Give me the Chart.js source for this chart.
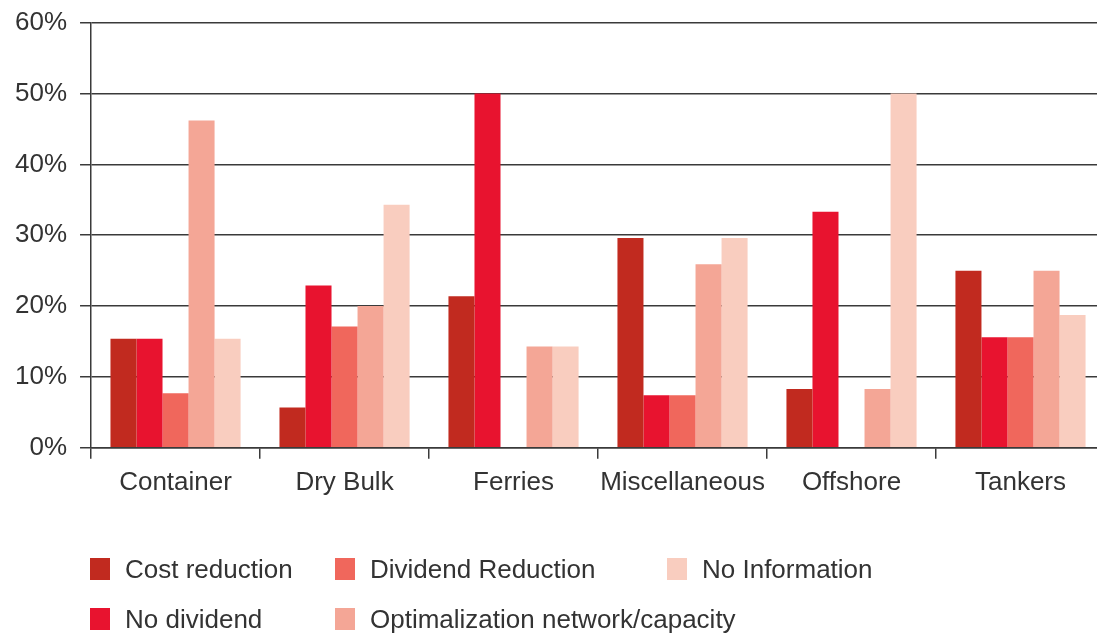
<!DOCTYPE html>
<html>
<head>
<meta charset="utf-8">
<script src="https://cdn.jsdelivr.net/npm/chart.js@4/dist/chart.umd.min.js"></script>
<style>
  html, body { margin: 0; padding: 0; background: #fff; overflow: hidden; }
  #wrap { position: relative; width: 1097px; height: 639px; overflow: hidden; }
  #chartBox { position: absolute; left: 0; top: -6px; width: 1110px; height: 645px; }
  #legend { position: absolute; left: 0; top: 0; width: 1097px; height: 639px; pointer-events: none;
    font-family: "Liberation Sans", Arial, sans-serif; font-size: 26px; color: #333; }
  .lg-item { position: absolute; display: flex; align-items: center; white-space: nowrap; }
  .lg-box { width: 20px; height: 22px; margin-right: 15px; }
</style>
</head>
<body>
<div id="wrap">
  <div id="chartBox"><canvas id="chart"></canvas></div>
  <div id="legend"></div>
</div>
<script>
// Categories and series (percent)
const categories = ["Container", "Dry Bulk", "Ferries", "Miscellaneous", "Offshore", "Tankers"];
const costReduction = [15.4, 5.7, 21.4, 29.6, 8.3, 25.0];
const noDividend = [15.4, 22.9, 50.0, 7.4, 33.3, 15.6];
const dividendReduction = [7.7, 17.1, 0, 7.4, 0, 15.6];
const optimalization = [46.2, 20.0, 14.3, 25.9, 8.3, 25.0];
const noInformation = [15.4, 34.3, 14.3, 29.6, 50.0, 18.75];
const yTicks = [0, 10, 20, 30, 40, 50, 60];

const seriesLabels = ["Cost reduction", "No dividend", "Dividend Reduction", "Optimalization network/capacity", "No Information"];
const seriesValues = [costReduction, noDividend, dividendReduction, optimalization, noInformation];
const seriesColors = ["#c12a1f", "#e8132f", "#f0675c", "#f4a696", "#f9cdbf"];

const FONT = { family: "'Liberation Sans', Arial, sans-serif", size: 26 };
const INK = "#333";
const LINE = "#3a3a3a";

const datasets = seriesLabels.map((label, i) => ({
  label,
  data: seriesValues[i],
  backgroundColor: seriesColors[i],
  borderWidth: 0,
  barPercentage: 1.0,
  categoryPercentage: 0.77,
}));

const chart = new Chart(document.getElementById("chart"), {
  type: "bar",
  data: { labels: categories, datasets },
  options: {
    responsive: true,
    maintainAspectRatio: false,
    animation: false,
    layout: { padding: { left: 2, right: 5, top: 16, bottom: 133 } },
    plugins: {
      legend: { display: false },
      tooltip: { enabled: false },
    },
    scales: {
      x: {
        grid: {
          drawOnChartArea: false,
          color: LINE,
          lineWidth: 1.5,
          tickLength: 11,
          offset: true,
        },
        border: { color: LINE, width: 1.5 },
        ticks: { color: INK, font: FONT, padding: 8, maxRotation: 0, autoSkip: false },
      },
      y: {
        min: 0,
        max: 60,
        afterBuildTicks: (axis) => {
          axis.ticks = yTicks.map((v) => ({ value: v }));
        },
        grid: { color: LINE, lineWidth: 1.5, tickLength: 11 },
        border: { color: LINE, width: 1.5 },
        ticks: {
          color: INK,
          font: FONT,
          padding: 13,
          callback: (v) => v + "%",
        },
      },
    },
  },
});

// Legend: three columns, filled column by column
const legendCols = [90, 335, 667];
const legendRows = [569, 619];
const legendEl = document.getElementById("legend");
seriesLabels.forEach((label, i) => {
  const item = document.createElement("div");
  item.className = "lg-item";
  item.style.left = legendCols[Math.floor(i / 2)] + "px";
  item.style.top = legendRows[i % 2] - 16 + "px";
  item.style.height = "32px";
  item.innerHTML = `<span class="lg-box" style="background:${seriesColors[i]}"></span><span>${label}</span>`;
  legendEl.appendChild(item);
});
</script>
</body>
</html>
